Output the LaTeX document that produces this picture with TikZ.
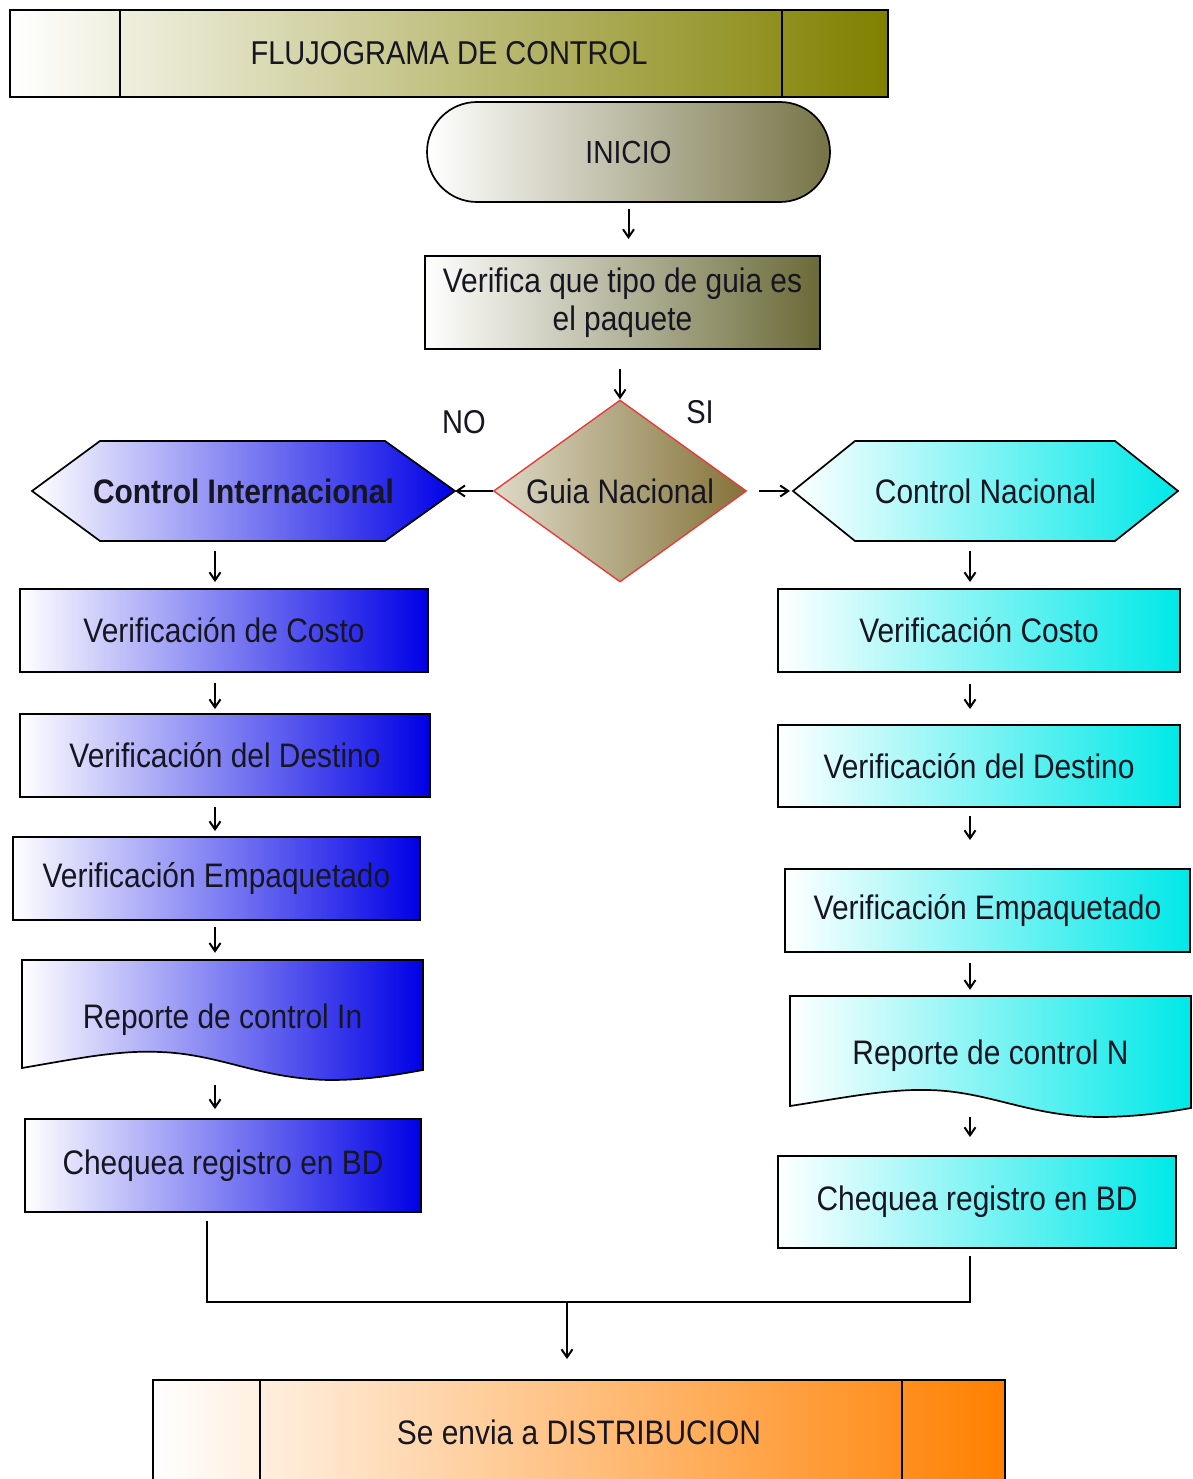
\documentclass[tikz,border=0pt]{standalone}
\usepackage{fontspec}
\newfontfamily\dfont{Liberation Sans}[FakeStretch=0.88]
\usetikzlibrary{shapes.geometric,shapes.misc,arrows.meta}
\definecolor{olv}{RGB}{128,128,0}
\definecolor{olvgray}{RGB}{118,116,70}
\definecolor{olvbox}{RGB}{106,106,56}
\definecolor{olvdia}{RGB}{132,114,56}
\definecolor{dialeft}{RGB}{222,218,200}
\definecolor{blu}{RGB}{0,0,230}
\definecolor{cyn}{RGB}{0,232,232}
\definecolor{org}{RGB}{255,128,0}
\definecolor{txt}{RGB}{22,22,34}
\definecolor{dred}{RGB}{230,60,60}
\begin{document}
\begin{tikzpicture}[x=1pt,y=-1pt,
  every node/.style={font=\dfont\fontsize{34}{38}\selectfont, text=txt},
  box/.style={draw=black, line width=1.9pt, rectangle, inner sep=0pt, align=center},
  holder/.style={inner sep=0pt, align=center},
  bluefill/.style={left color=white, right color=blu},
  cyanfill/.style={left color=white, right color=cyn},
  outl/.style={draw=black, line width=1.7pt},
  conn/.style={line width=2pt},
  arr/.style={line width=2pt, -{Straight Barb[length=8pt,width=11pt,line width=2pt]}}
]
\useasboundingbox (0,0) rectangle (1192,1479);
\clip (0,0) rectangle (1192,1479);
\fill[white] (0,0) rectangle (1192,1479);

% column coordinates
\coordinate (xL) at (215,0);
\coordinate (xR) at (970,0);

% title bar
\node[box, left color=white, right color=olv, minimum width=878pt, minimum height=87pt,
  font=\dfont\fontsize{33}{38}\selectfont] (title) at (449,53.5) {FLUJOGRAMA DE CONTROL};
\draw[line width=1.9pt] (120,10) -- (120,97);
\draw[line width=1.9pt] (782,10) -- (782,97);

% inicio
\node[rounded rectangle, outl, left color=white, right color=olvgray, minimum width=403pt,
  minimum height=100pt, inner sep=0pt, font=\dfont\fontsize{32}{38}\selectfont] (ini) at (628.5,152) {INICIO};

% verifica
\node[box, left color=white, right color=olvbox, minimum width=395pt, minimum height=93pt] (ver) at (622.5,302.5) {Verifica que tipo de guia es\\el paquete};

% diamond
\node[diamond, draw=dred, line width=1.4pt, left color=dialeft, right color=olvdia, minimum width=253pt,
  minimum height=182pt, shape aspect=1.39, inner sep=0pt] (dia) at (620,491) {Guia Nacional};

\node[font=\dfont\fontsize{33}{38}\selectfont] (no) at (464,422) {NO};
\node[font=\dfont\fontsize{33}{38}\selectfont] (si) at (700,412) {SI};

% hexagons
\path[outl, bluefill] (32,491) -- (100,441) -- (385,441) -- (455,491) -- (385,541) -- (100,541) -- cycle;
\node[holder, minimum width=423pt, minimum height=100pt, font=\dfont\bfseries\fontsize{34}{38}\selectfont] (ci) at (243.5,491) {Control Internacional};
\path[outl, cyanfill] (793,491) -- (855,441) -- (1115,441) -- (1178,491) -- (1115,541) -- (855,541) -- cycle;
\node[holder, minimum width=385pt, minimum height=100pt] (cn) at (985.5,491) {Control Nacional};

% left column
\node[box, bluefill, minimum width=408pt, minimum height=83pt] (vdc) at (224,630.5) {Verificación de Costo};
\node[box, bluefill, minimum width=410pt, minimum height=83pt] (vdd) at (225,755.5) {Verificación del Destino};
\node[box, bluefill, minimum width=407pt, minimum height=83pt] (vel) at (216.5,878.5) {Verificación Empaquetado};
\path[outl, bluefill] (22,960) -- (423,960) -- (423,1070) .. controls (400,1074) and (370,1080) .. (330,1080)
  .. controls (260,1079) and (220,1054) .. (160,1052) .. controls (120,1050) and (80,1058) .. (22,1068) -- cycle;
\node[holder, minimum width=401pt, minimum height=120pt] (ri) at (222.5,1020) {Reporte de control In};
\node[box, bluefill, minimum width=396pt, minimum height=93pt] (chl) at (223,1165.5) {Chequea registro en BD};

% right column
\node[box, cyanfill, minimum width=402pt, minimum height=83pt] (vc) at (979,630.5) {Verificación Costo};
\node[box, cyanfill, minimum width=402pt, minimum height=82pt] (vd) at (979,766) {Verificación del Destino};
\node[box, cyanfill, minimum width=405pt, minimum height=83pt] (ve) at (987.5,910.5) {Verificación Empaquetado};
\begin{scope}[shift={(768,37)}]
\path[outl, cyanfill] (22,959) -- (423,959) -- (423,1071) .. controls (400,1075) and (370,1080) .. (330,1080)
  .. controls (260,1079) and (220,1054) .. (160,1053) .. controls (120,1052) and (80,1060) .. (22,1069) -- cycle;
\end{scope}
\node[holder, minimum width=401pt, minimum height=120pt] (rn) at (990.5,1056) {Reporte de control N};
\node[box, cyanfill, minimum width=398pt, minimum height=92pt] (chr) at (977,1202) {Chequea registro en BD};

% distribution
\node[box, left color=white, right color=org, minimum width=852pt, minimum height=104pt] (dist) at (579,1432) {Se envia a DISTRIBUCION};
\draw[line width=1.9pt] (260,1380) -- (260,1484);
\draw[line width=1.9pt] (902,1380) -- (902,1484);

% connectors top
\draw[arr, shorten <=6pt, shorten >=16pt] (ini.south) -- (ini.south |- ver.north);
\draw[arr, shorten <=19pt] (ver.south -| dia.north) -- (dia.north);
\draw[arr] (dia.west) -- (ci.east);
\draw[arr, shorten <=12pt, shorten >=3pt] (dia.east) -- (dia.east -| 793,0);

% left column arrows
\draw[arr, shorten <=10pt, shorten >=6pt] (ci.south -| xL) -- (vdc.north -| xL);
\draw[arr, shorten <=10pt, shorten >=4pt] (vdc.south -| xL) -- (vdd.north -| xL);
\draw[arr, shorten <=9pt, shorten >=5pt] (vdd.south -| xL) -- (vel.north -| xL);
\draw[arr, shorten <=6pt, shorten >=7pt] (vel.south -| xL) -- (ri.north -| xL);
\draw[arr, shorten <=5pt, shorten >=9pt] (ri.south -| xL) -- (chl.north -| xL);

% right column arrows
\draw[arr, shorten <=10pt, shorten >=6pt] (cn.south -| xR) -- (vc.north -| xR);
\draw[arr, shorten <=11pt, shorten >=15pt] (vc.south -| xR) -- (vd.north -| xR);
\draw[arr, shorten <=8pt, shorten >=28pt] (vd.south -| xR) -- (ve.north -| xR);
\draw[arr, shorten <=10pt, shorten >=6pt] (ve.south -| xR) -- (rn.north -| xR);
\draw[arr, shorten <=1pt, shorten >=18pt] (rn.south -| xR) -- (chr.north -| xR);

% join
\coordinate (jl) at (207,1302);
\coordinate (jr) at (970,1302);
\coordinate (jm) at (567,1302);
\draw[conn, shorten <=8pt, shorten >=7pt] (chl.south -| jl) -- (jl) -- (jr) -- (chr.south -| jr);
\draw[arr, shorten >=20pt] (jm) -- (jm |- dist.north);
\end{tikzpicture}
\end{document}
